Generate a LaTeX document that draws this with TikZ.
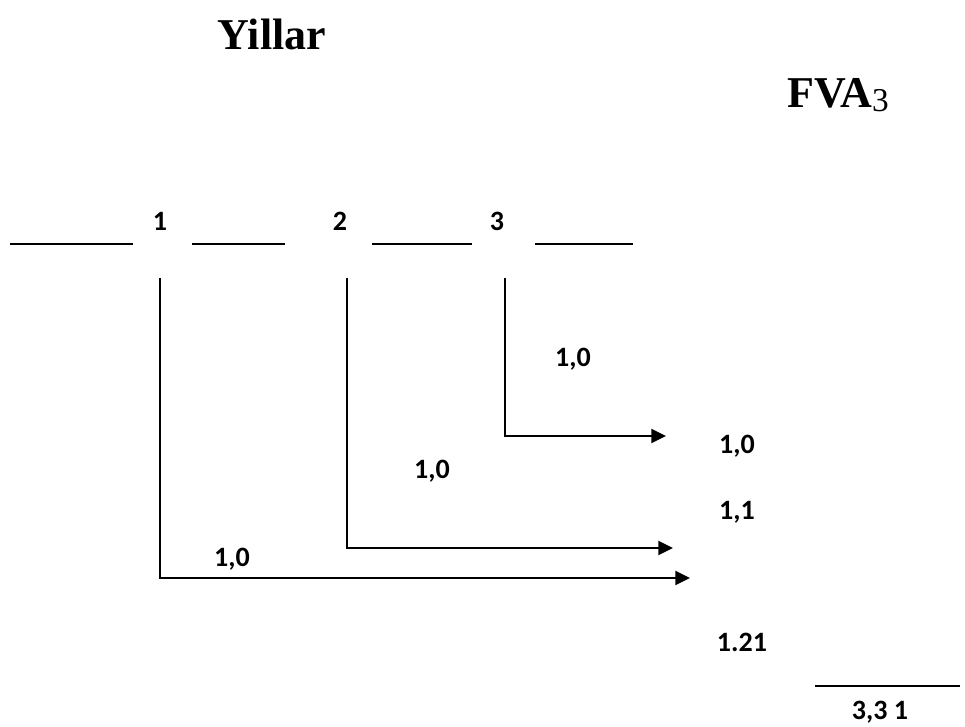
\documentclass[tikz,border=0pt]{standalone}
\usepackage{fontspec}
\setmainfont{Liberation Serif}
\newfontfamily\numfont{Carlito}
\usetikzlibrary{arrows.meta}

\begin{document}
\begin{tikzpicture}[x=0.75pt, y=-0.75pt,
      num/.style={anchor=base, font=\numfont\bfseries\fontsize{21}{24}\selectfont, inner sep=0pt},
      head/.style={anchor=base, font=\bfseries\fontsize{33}{38}\selectfont, inner sep=0pt},
      rule/.style={line width=1.5pt},
      arr/.style={-{Triangle[length=11pt, width=10.5pt]}, line width=1.5pt}]
    \useasboundingbox (0, 0) rectangle (965, 727);
    % titles
    \node[head] (years) at (272, 50) {Yillar};
    \node[head, anchor=base west] (fva) at (787, 108) {FVA{\mdseries\fontsize{25}{28}\selectfont\raisebox{-3pt}{3}}};
    % time line with the year numbers
    \node[num] (y1) at (160, 231) {1};
    \node[num] (y2) at (340, 231) {2};
    \node[num] (y3) at (497, 231) {3};
    \draw[rule] (10, 244) -- (133, 244);
    \draw[rule] (192, 244) -- (285, 244);
    \draw[rule] (372, 244) -- (472, 244);
    \draw[rule] (535, 244) -- (633, 244);
    % payments carried forward
    \coordinate (t1) at (160, 278);
    \coordinate (t2) at (347, 278);
    \coordinate (t3) at (505, 278);
    \coordinate (e1) at (690, 578);
    \coordinate (e2) at (673, 548);
    \coordinate (e3) at (666, 436);
    \draw[arr] (t3) |- (e3);
    \draw[arr] (t2) |- (e2);
    \draw[arr] (t1) |- (e1);
    \node[num] (p3) at (573, 367) {1,0};
    \node[num] (p2) at (432, 479) {1,0};
    \node[num] (p1) at (232, 566) {1,0};
    % future values and their sum
    \node[num] (f3) at (737, 454) {1,0};
    \node[num] (f2) at (737, 519) {1,1};
    \node[num] (f1) at (742, 651) {1.21};
    \draw[rule] (815, 686) -- (960, 686);
    \node[num] (sum) at (880, 719) {3,3 1};
\end{tikzpicture}
\end{document}
